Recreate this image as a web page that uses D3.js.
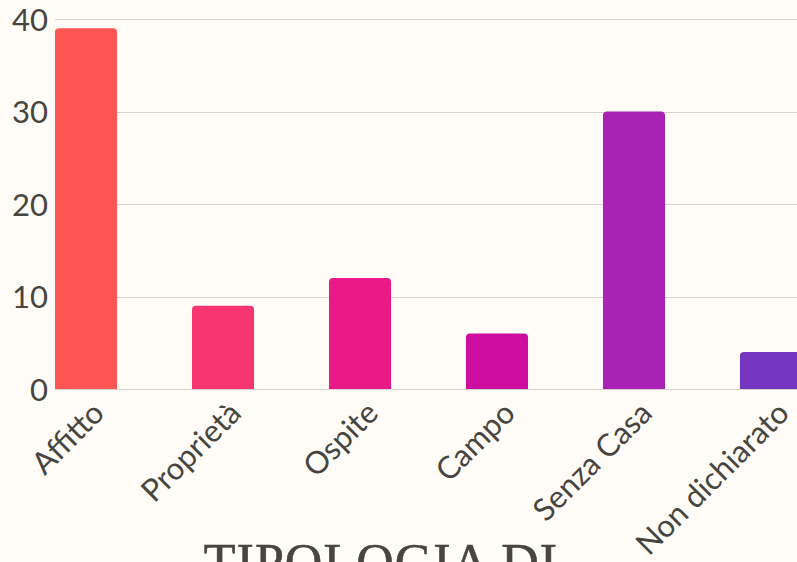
<!DOCTYPE html>
<html>
<head>
<meta charset="utf-8">
<script src="https://cdn.jsdelivr.net/npm/d3@7"></script>
<style>
  body { margin: 0; background: #fffbf6; overflow: hidden; }
  svg { display: block; }
</style>
</head>
<body>
<div id="graph"></div>
<script>
var categories = ["Affitto", "Proprietà", "Ospite", "Campo", "Senza Casa", "Non dichiarato"];
var values = [39, 9, 12, 6, 30, 4];
var barColors = ["#ff5553", "#f7356f", "#ea1987", "#cd0ca0", "#a922b4", "#7536c0"];
var yTicks = [0, 10, 20, 30, 40];

var width = 797;
var height = 562;
var margins = {top: 19, right: 0, bottom: 173, left: 55};

var svg = d3.select('#graph')
  .append('svg')
  .attr('width', width)
  .attr('height', height);

var x = d3.scaleBand()
  .domain(categories)
  .range([margins.left, margins.left + 6 * 137 - 75])
  .paddingInner(0.547)
  .paddingOuter(0)
  .align(0);

var y = d3.scaleLinear()
  .domain([0, 40])
  .range([height - margins.bottom, margins.top]);

/* grid lines */
svg.append('g')
  .selectAll('line')
  .data(yTicks)
  .join('line')
  .attr('x1', margins.left)
  .attr('x2', width)
  .attr('y1', function(d) { return Math.round(y(d)) + 0.5; })
  .attr('y2', function(d) { return Math.round(y(d)) + 0.5; })
  .attr('stroke', '#d6d3ce')
  .attr('stroke-width', 1);

/* y axis labels */
var yAxis = svg.append('g')
  .attr('transform', 'translate(' + margins.left + ',0)')
  .call(d3.axisLeft(y).tickValues(yTicks).tickSize(0).tickPadding(7));
yAxis.select('.domain').remove();
yAxis.selectAll('text')
  .attr('fill', '#46453f')
  .attr('dy', '0.36em')
  .style('font-family', 'Lato, sans-serif')
  .style('font-size', '31px');

/* bars with rounded tops */
function barPath(d, i) {
  var x0 = x(categories[i]), w = x.bandwidth();
  var y0 = y(0), y1 = y(d), r = 4;
  return 'M' + x0 + ',' + y0 +
    'V' + (y1 + r) +
    'Q' + x0 + ',' + y1 + ' ' + (x0 + r) + ',' + y1 +
    'H' + (x0 + w - r) +
    'Q' + (x0 + w) + ',' + y1 + ' ' + (x0 + w) + ',' + (y1 + r) +
    'V' + y0 + 'Z';
}
svg.append('g')
  .selectAll('path')
  .data(values)
  .join('path')
  .attr('d', barPath)
  .attr('fill', function(d, i) { return barColors[i]; });

/* x axis labels */
var xAxis = svg.append('g')
  .attr('transform', 'translate(0,' + y(0) + ')')
  .call(d3.axisBottom(x).tickSize(0).tickPadding(0));
xAxis.select('.domain').remove();
xAxis.selectAll('text')
  .attr('fill', '#46453f')
  .style('font-family', 'Lato, sans-serif')
  .style('font-size', '31px')
  .attr('text-anchor', 'end')
  .attr('dy', '0')
  .attr('transform', 'translate(20,26) rotate(-45)');

/* title */
svg.append('text')
  .attr('x', 381)
  .attr('y', 580)
  .attr('text-anchor', 'middle')
  .attr('fill', '#46453f')
  .attr('stroke', '#46453f')
  .attr('stroke-width', 0.6)
  .style('font-family', '"Liberation Serif", serif')
  .style('font-size', '52px')
  .style('letter-spacing', '1px')
  .text('TIPOLOGIA DI');
</script>
</body>
</html>
